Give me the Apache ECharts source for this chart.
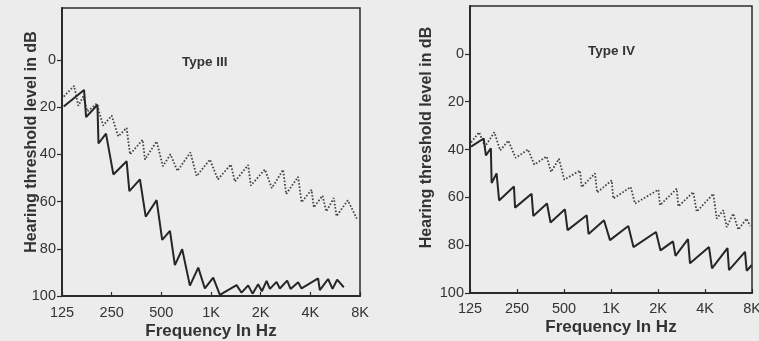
<!DOCTYPE html>
<html><head><meta charset="utf-8">
<script src="https://cdn.jsdelivr.net/npm/echarts@6/dist/echarts.min.js"></script>
<style>html,body{margin:0;padding:0;background:#ececed;}#c{width:759px;height:341px;}</style>
</head><body><div id="c"></div>
<script>
// ---- tick labels / texts ----
const freqTicks = [125, 250, 500, 1000, 2000, 4000, 8000];
const freqTickLabels = ['125', '250', '500', '1K', '2K', '4K', '8K'];
const dbTicks = [0, 20, 40, 60, 80, 100];
const panelTitles = ['Type III', 'Type IV'];
const yAxisTitle = 'Hearing threshold level in dB';
const xAxisTitle = 'Frequency In Hz';

// ---- Type III: continuous tone (solid) ----
const t3ContFreq = [128,170,175,205,208,231,256,308,320,371,402,468,506,564,604,669,745,837,918,1031,1132,1429,1532,1680,1786,1931,2034,2172,2274,2496,2614,2894,3035,3374,3538,4460,4566,5127,5451,5813,6382];
const t3ContDb   = [19.7,12.7,24.2,19,35.4,31.2,48.5,42.9,55.6,50.6,66.4,59.4,76.2,72.4,86.9,80.2,95.6,88,96.8,92.2,99.5,95.4,98.6,95.5,99,95,98,93.6,97,94,96.8,93.5,97,94.2,96.8,92.5,97.5,92.8,97,93.1,96.3];
// ---- Type III: pulsed tone (dotted) ----
const t3PulsFreq = [128,148,157,168,178,203,222,250,274,308,323,385,398,468,511,568,626,750,818,985,1101,1320,1395,1680,1744,2121,2338,2737,2854,3374,3538,4068,4200,4742,5000,5551,5764,6748,7650];
const t3PulsDb   = [15.5,11,19.4,15.5,21.8,18.5,27.8,23.6,32.4,28.8,40,33.8,42.2,34.5,45,40,47,39.2,49.2,42.2,50.6,44.3,51.5,44.5,53.2,46.4,54.3,46.5,56.8,49.5,60.3,55,62.5,57.5,64.2,58.5,66.2,59.5,67.2];

// ---- Type IV: continuous tone (solid) ----
const t4ContFreq = [127,153,158,170,172,185,192,239,243,310,318,389,410,507,527,699,718,902,985,1291,1393,1942,2075,2495,2589,3113,3206,4243,4435,5573,5698,7215,7398,7982];
const t4ContDb   = [38.8,35.4,42.5,39.5,54,50,61.3,55.5,64.3,58.5,67.8,62.6,70.5,65,73.7,67.5,75.3,69.6,77.9,72,80.8,74.5,82.2,78.4,84.5,77.5,87.6,80.8,89.7,81.2,90.4,82.8,90.7,88.3];
// ---- Type IV: pulsed tone (dotted) ----
const t4PulsFreq = [127,143,156,179,195,220,245,294,323,387,413,464,502,633,649,790,814,1010,1035,1337,1425,2009,2060,2635,2698,3366,3539,4521,4753,5239,5508,6072,6536,7398,7767];
const t4PulsDb   = [37,32.8,38.8,32.8,40.4,36.3,43.5,40,46.3,42.9,49.4,43.9,52.6,48.8,55.7,50,58,52.9,60.5,55.7,62.6,56.8,63.3,56.4,63.8,57.8,66,58.5,68.9,65.4,72.4,66.8,73.5,68.9,72];

function pairs(f, d) { return f.map((v, i) => [v, d[i]]); }
function freqLabel(v) {
  let best = 0;
  freqTicks.forEach((t, i) => { if (Math.abs(Math.log(t / v)) < Math.abs(Math.log(freqTicks[best] / v))) best = i; });
  return freqTickLabels[best];
}

const FONT = '"Liberation Sans", Arial, Helvetica, sans-serif';
const INK = '#2b2b2b';
const TXT = '#333333';

const grids = [
  { left: 62, right: 399, top: 8, bottom: 45 },
  { left: 470, right: 7, top: 6, bottom: 48 }
];
const yMins = [-22, -20];
const yNameGaps = [22, 35];
const yNamePad = [[0, 0, 0, 20], [0, 0, 0, 24]];
const xNameGaps = [27, 26];
const xLabelMargins = [9, 8];

const option = {
  backgroundColor: '#ececed',
  animation: false,
  textStyle: { fontFamily: FONT },
  title: [
    { text: panelTitles[0], left: 182, top: 55, padding: 0, textStyle: { fontSize: 13.5, fontWeight: 'bold', color: TXT, fontFamily: FONT } },
    { text: panelTitles[1], left: 588, top: 44, padding: 0, textStyle: { fontSize: 13.5, fontWeight: 'bold', color: TXT, fontFamily: FONT } }
  ],
  grid: grids.map(g => Object.assign({ show: true, borderColor: INK, borderWidth: 1.5, backgroundColor: 'transparent', containLabel: false, outerBoundsMode: 'none' }, g)),
  xAxis: [0, 1].map(i => ({
    type: 'log', logBase: 2, gridIndex: i, min: 125, max: 8000, position: 'bottom',
    name: xAxisTitle, nameLocation: 'middle', nameGap: xNameGaps[i], nameMoveOverlap: false,
    nameTextStyle: { fontSize: 17, fontWeight: 'bold', color: TXT, fontFamily: FONT },
    axisLine: { show: true, onZero: false, lineStyle: { color: INK, width: 2 } },
    axisTick: { show: true, inside: true, length: 4, customValues: freqTicks, lineStyle: { color: INK, width: 1.2 } },
    minorTick: { show: false },
    axisLabel: { customValues: freqTicks, formatter: freqLabel, margin: xLabelMargins[i], fontSize: 14.5, color: TXT, fontFamily: FONT },
    splitLine: { show: false }
  })),
  yAxis: [0, 1].map(i => ({
    type: 'value', gridIndex: i, inverse: true, min: yMins[i], max: 100, position: 'left',
    name: yAxisTitle, nameLocation: 'middle', nameGap: yNameGaps[i], nameRotate: 90, nameMoveOverlap: false,
    nameTextStyle: { fontSize: 16, fontWeight: 'bold', color: TXT, fontFamily: FONT, padding: yNamePad[i] },
    axisLine: { show: true, onZero: false, lineStyle: { color: INK, width: 2 } },
    axisTick: { show: true, inside: false, length: 5, customValues: dbTicks, lineStyle: { color: INK, width: 1.2 } },
    axisLabel: { customValues: dbTicks, margin: 6, fontSize: 14.5, color: TXT, fontFamily: FONT },
    splitLine: { show: false }
  })),
  series: [
    { name: 'Type III continuous', type: 'line', xAxisIndex: 0, yAxisIndex: 0, data: pairs(t3ContFreq, t3ContDb), showSymbol: false, lineStyle: { color: '#262626', width: 2 }, z: 3 },
    { name: 'Type III pulsed', type: 'line', xAxisIndex: 0, yAxisIndex: 0, data: pairs(t3PulsFreq, t3PulsDb), showSymbol: false, lineStyle: { color: '#444444', width: 1.8, type: [1.6, 1.8] }, z: 2 },
    { name: 'Type IV continuous', type: 'line', xAxisIndex: 1, yAxisIndex: 1, data: pairs(t4ContFreq, t4ContDb), showSymbol: false, lineStyle: { color: '#262626', width: 2 }, z: 3 },
    { name: 'Type IV pulsed', type: 'line', xAxisIndex: 1, yAxisIndex: 1, data: pairs(t4PulsFreq, t4PulsDb), showSymbol: false, lineStyle: { color: '#444444', width: 1.8, type: [1.6, 1.8] }, z: 2 }
  ]
};
const chart = echarts.init(document.getElementById('c'), null, { renderer: 'canvas' });
chart.setOption(option);
</script></body></html>
